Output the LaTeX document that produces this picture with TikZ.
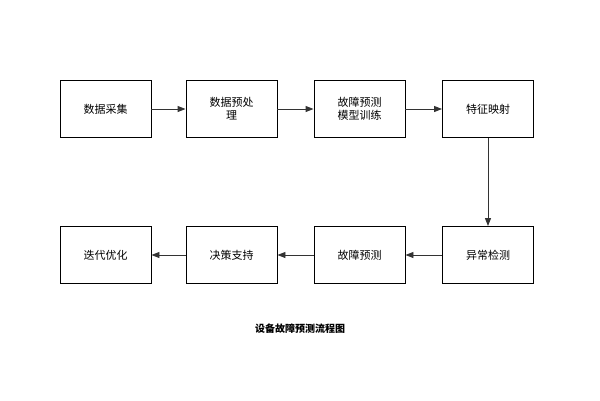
\documentclass[tikz,border=0pt]{standalone}
\usepackage{fontspec}
\setmainfont{Noto Sans CJK SC}
\usetikzlibrary{arrows.meta}
\begin{document}
\begin{tikzpicture}[x=1pt,y=-1pt,
 box/.style={draw=black,line width=0.9pt,minimum width=91pt,minimum height=57pt,align=center,font=\fontsize{11}{13}\selectfont,inner sep=2pt},
 arr/.style={draw=black!80,line width=0.9pt,-{Triangle[length=8pt,width=6pt]}}]
\useasboundingbox (0,0) rectangle (600,400);
\node[box] (a) at (105.5,109) {数据采集};
\node[box] (b) at (231.5,109) {数据预处\\理};
\node[box] (c) at (359.5,109) {故障预测\\模型训练};
\node[box] (d) at (488,109) {特征映射};
\node[box] (e) at (488,255) {异常检测};
\node[box] (f) at (359.5,255) {故障预测};
\node[box] (g) at (231.5,255) {决策支持};
\node[box] (h) at (105.5,255) {迭代优化};
\node[font=\bfseries\fontsize{10}{12}\selectfont] (t) at (300,329) {设备故障预测流程图};
\draw[arr] (a) -- (b);
\draw[arr] (b) -- (c);
\draw[arr] (c) -- (d);
\draw[arr] (d) -- (e);
\draw[arr] (e) -- (f);
\draw[arr] (f) -- (g);
\draw[arr] (g) -- (h);
\end{tikzpicture}
\end{document}
